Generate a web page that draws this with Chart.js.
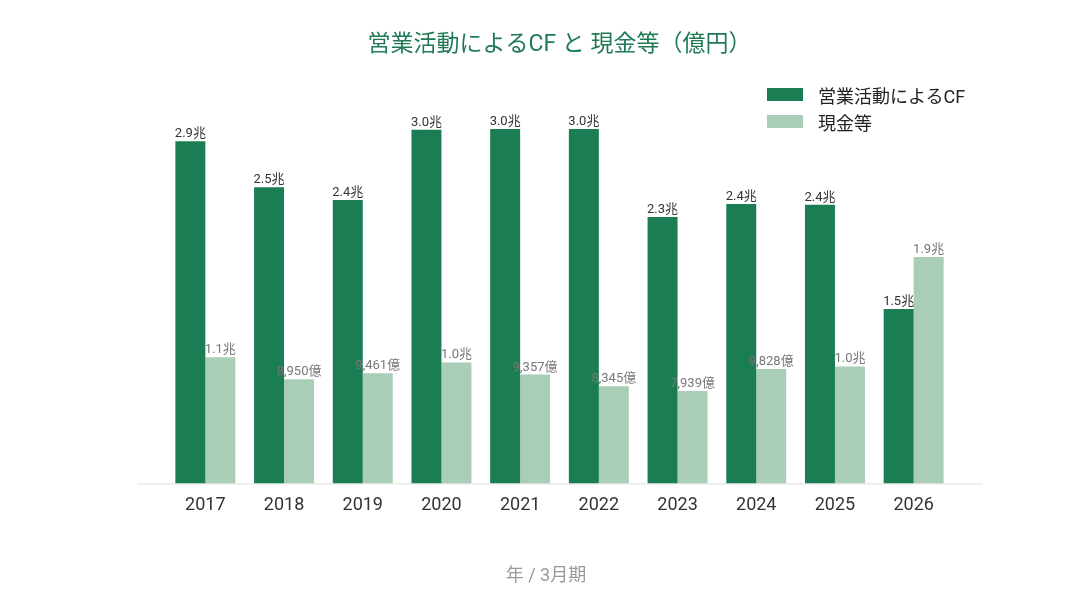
<!DOCTYPE html>
<html lang="ja">
<head>
<meta charset="utf-8">
<title>営業活動によるCF と 現金等</title>
<script src="https://cdn.jsdelivr.net/npm/chart.js@4/dist/chart.umd.min.js"></script>
<style>
	html, body { margin:0; padding:0; background:#fff; }
	body { width:1092px; height:598px; position:relative; overflow:hidden;
		font-family: Roboto, "Noto Sans CJK JP", sans-serif; }
	#wrap { position:absolute; left:0; top:0; width:1092px; height:598px; }
	#legend { position:absolute; left:767px; top:81px; font-size:18px; color:#222; }
	#legend .item { display:flex; align-items:center; height:27px; }
	#legend .box { width:36px; height:13px; margin-right:15px; }
	#xtitle { position:absolute; left:0; width:1092px; top:563px; line-height:24px;
		text-align:center; font-size:18px; color:#999; }
</style>
</head>
<body>
<div id="wrap"><canvas id="chart" width="1092" height="598"></canvas></div>
<div id="legend"></div>
<div id="xtitle">年 / 3月期</div>
<script>
	// data (億円)
	const years = ['2017','2018','2019','2020','2021','2022','2023','2024','2025','2026'];
	const operatingCF = [29400, 25450, 24350, 30400, 30450, 30450, 22900, 24000, 23950, 14990];
	const cashEtc = [10850, 8950, 9461, 10400, 9357, 8345, 7939, 9828, 10050, 19450];
	const seriesNames = ['営業活動によるCF', '現金等'];
	const seriesColors = ['#1b7d53', '#a9cdb6'];
	const labelColors = ['#333333', '#777777'];

	const FONT = 'Roboto, "Noto Sans CJK JP", sans-serif';

	function fmt(v){
		if(v >= 10000) return (v/10000).toFixed(1) + '兆';
		return v.toLocaleString('en-US') + '億';
	}

	// value labels above bars
	const valueLabels = {
		id: 'valueLabels',
		afterDatasetsDraw(chart){
			const ctx = chart.ctx;
			ctx.save();
			ctx.font = '13px ' + FONT;
			ctx.textAlign = 'center';
			ctx.textBaseline = 'alphabetic';
			chart.data.datasets.forEach((ds, di)=>{
				const meta = chart.getDatasetMeta(di);
				ctx.fillStyle = labelColors[di];
				meta.data.forEach((bar, i)=>{
					ctx.fillText(fmt(ds.data[i]), bar.x, bar.y - 4);
				});
			});
			ctx.restore();
		}
	};

	// baseline, a bit wider than the category area
	const baseLine = {
		id: 'baseLine',
		beforeDatasetsDraw(chart){
			const a = chart.chartArea, ctx = chart.ctx;
			ctx.save();
			ctx.strokeStyle = '#dddddd';
			ctx.lineWidth = 1;
			ctx.beginPath();
			ctx.moveTo(a.left - 29, a.bottom + 0.5);
			ctx.lineTo(a.right + 30, a.bottom + 0.5);
			ctx.stroke();
			ctx.restore();
		}
	};

	new Chart(document.getElementById('chart').getContext('2d'), {
		type: 'bar',
		data: {
			labels: years,
			datasets: [
				{ label: seriesNames[0], data: operatingCF, backgroundColor: seriesColors[0] },
				{ label: seriesNames[1], data: cashEtc, backgroundColor: seriesColors[1] }
			]
		},
		options: {
			responsive: false,
			animation: false,
			layout: { padding: { left: 166, right: 139, top: 0, bottom: 79 } },
			datasets: { bar: { barPercentage: 1, categoryPercentage: 0.762 } },
			scales: {
				x: {
					grid: { display: false },
					border: { display: false },
					ticks: { color: '#333', font: { size: 18, family: FONT }, padding: 3 }
				},
				y: { display: false, min: 0, max: 34700 }
			},
			plugins: {
				legend: { display: false },
				tooltip: { enabled: false },
				title: {
					display: true,
					text: '営業活動によるCF と 現金等（億円）',
					color: '#1f7a55',
					font: { size: 23, weight: 'normal', family: FONT },
					padding: { top: 31, bottom: 21 }
				}
			}
		},
		plugins: [baseLine, valueLabels]
	});

	// legend
	const legend = document.getElementById('legend');
	seriesNames.forEach((name, i)=>{
		const item = document.createElement('div');
		item.className = 'item';
		item.innerHTML = `<span class="box" style="background:${seriesColors[i]}"></span><span>${name}</span>`;
		legend.appendChild(item);
	});
</script>
</body>
</html>
